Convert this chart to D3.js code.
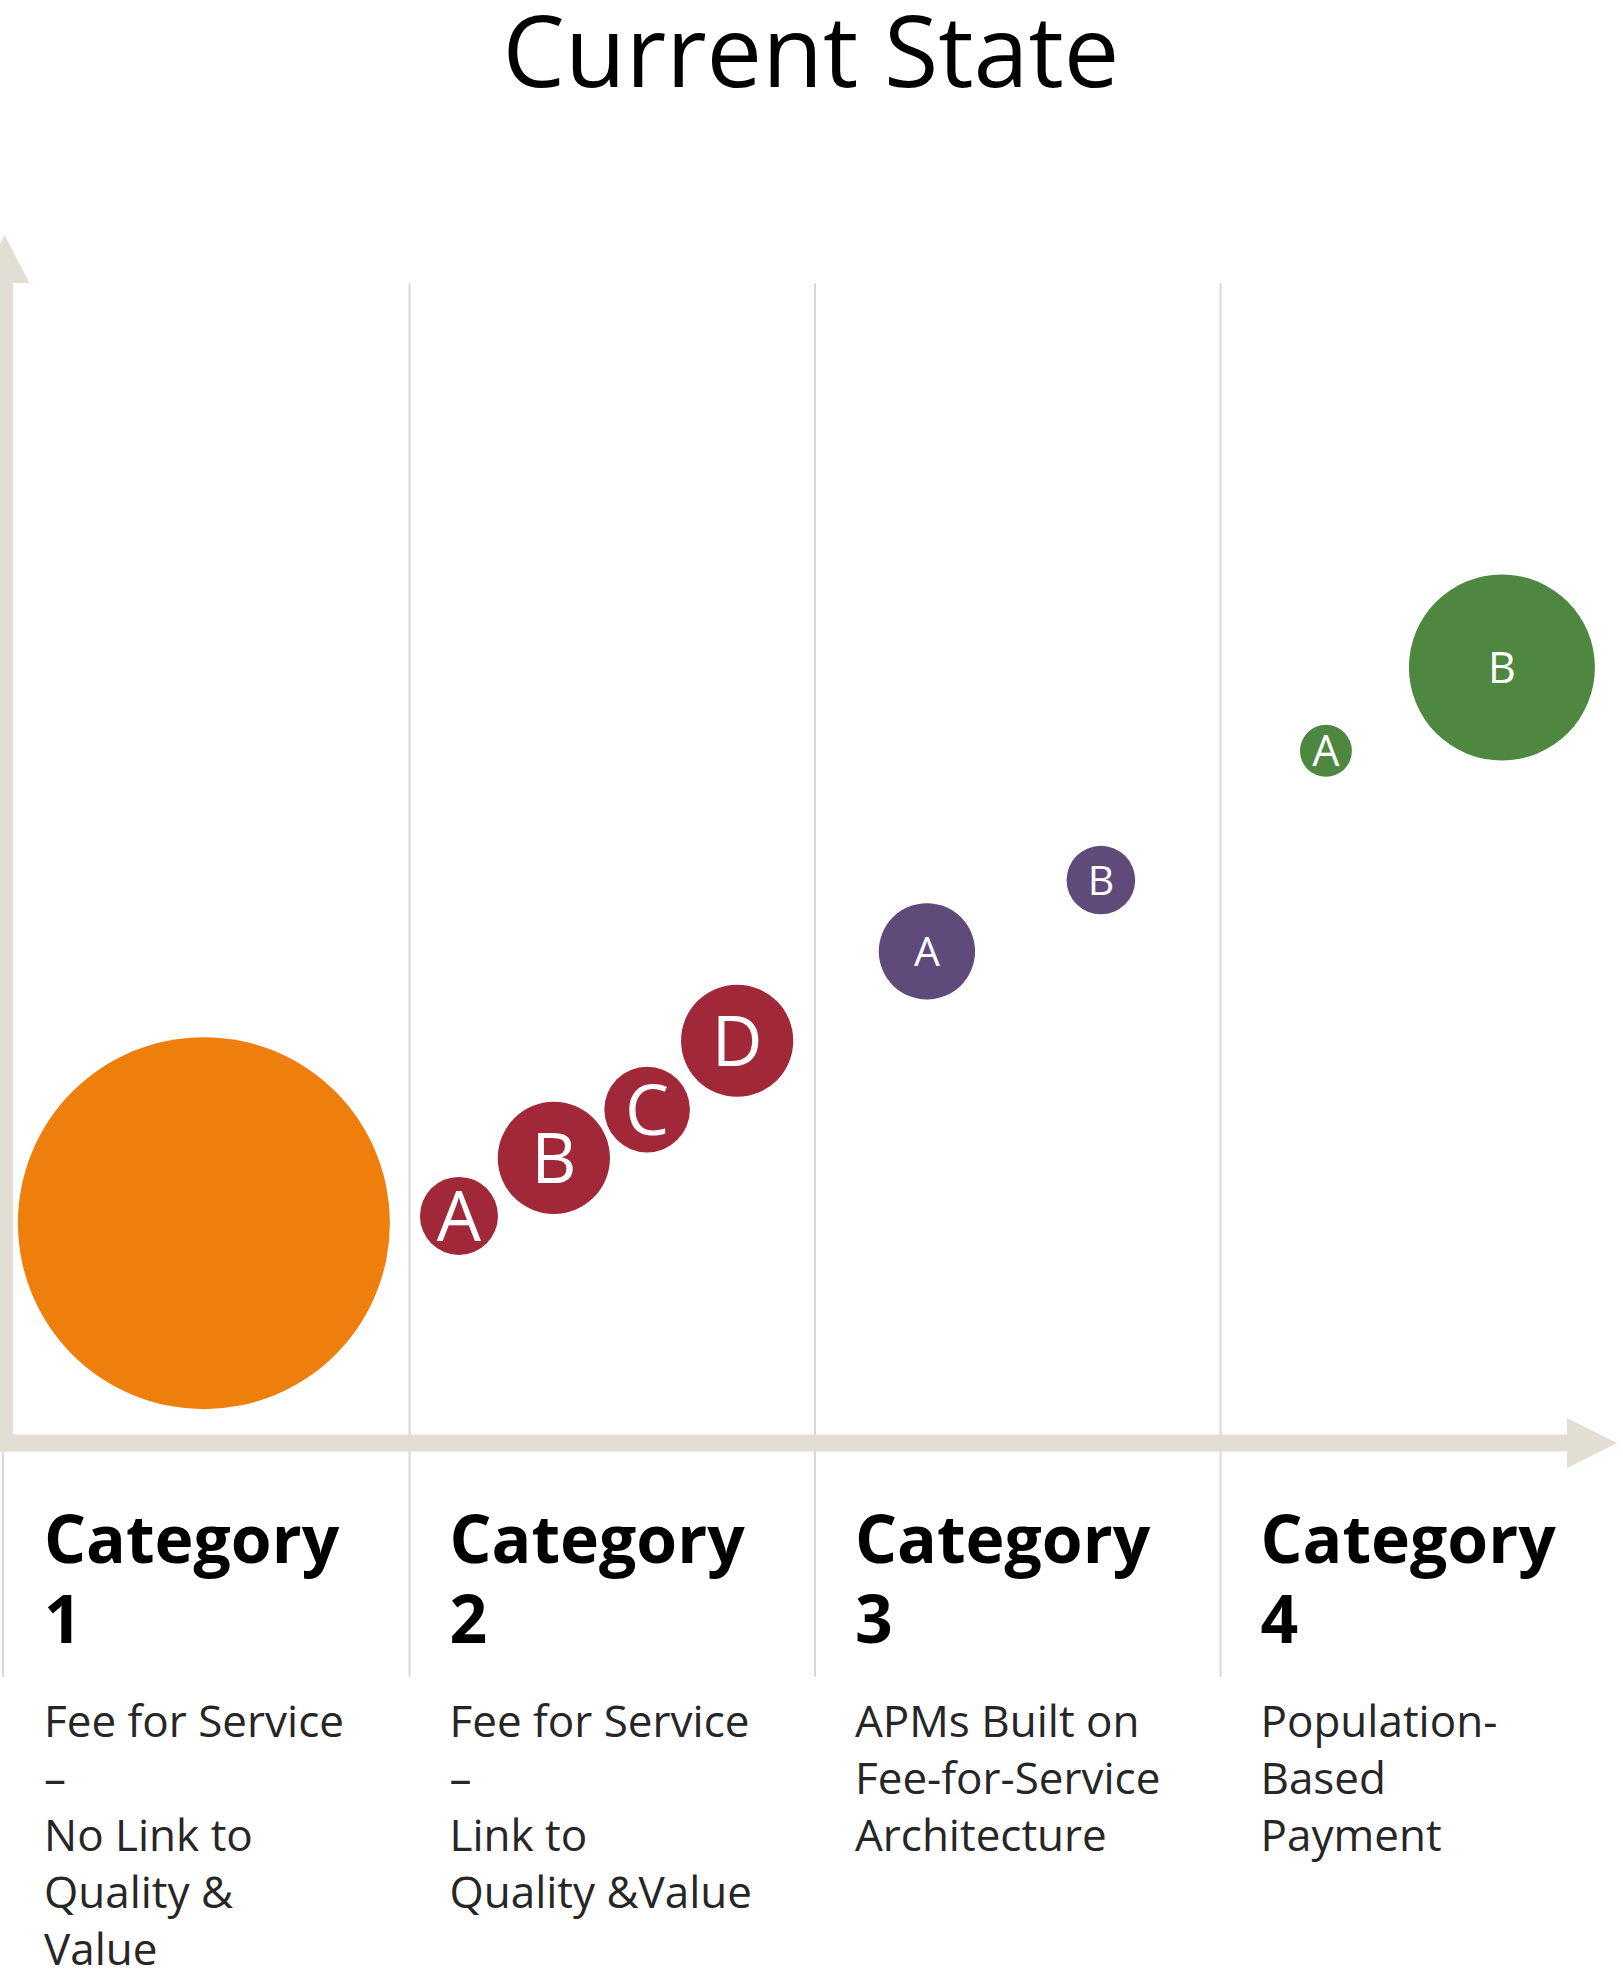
<!DOCTYPE html>
<html>
<head>
<meta charset="utf-8">
<script src="https://cdn.jsdelivr.net/npm/d3@7"></script>
<style>
  body { margin: 0; background: #fff; }
  text { font-family: "Open Sans", "Noto Sans", sans-serif; }
</style>
</head>
<body>
<div id="chart-container"></div>
<script>
// Chart data
const categoryNumbers = ["1", "2", "3", "4"];
const categoryDescriptions = [
    ["Fee for Service", "–", "No Link to", "Quality &", "Value"],
    ["Fee for Service", "–", "Link to", "Quality &Value"],
    ["APMs Built on", "Fee-for-Service", "Architecture"],
    ["Population-", "Based", "Payment"]
];

// Bubbles: label, category, position along the payment continuum, height, size
const bubbleLabels   = ["", "A", "B", "C", "D", "A", "B", "A", "B"];
const bubbleCategory = [1, 2, 2, 2, 2, 3, 3, 4, 4];
const bubbleX        = [0.493, 1.122, 1.356, 1.586, 1.808, 2.276, 2.705, 3.26, 3.694];
const bubbleY        = [18.2, 18.8, 23.6, 27.6, 33.3, 40.7, 46.6, 57.3, 64.2];
const bubbleSize     = [100, 4.4, 9.1, 5.3, 9.1, 6.7, 3.4, 1.95, 25];

// Dimensions
const W = 1623, H = 1974;
const axisColor = "#e3ded4";
const gridColor = "#d9d9d9";

const svg = d3.select("#chart-container")
    .append("svg")
    .attr("width", W)
    .attr("height", H);

// Scales
const xScale = d3.scaleLinear().domain([0, 4]).range([4, 1626]);
const yScale = d3.scaleLinear().domain([0, 100]).range([1443, 235]);
const rScale = d3.scaleSqrt().domain([0, 100]).range([0, 186]);
const colorScale = d3.scaleOrdinal()
    .domain([1, 2, 3, 4])
    .range(["#ef7f0c", "#a12838", "#5f4a7a", "#4e8740"]);
const labelSize = d3.scaleOrdinal()
    .domain([1, 2, 3, 4])
    .range([0, 70, 41, 43]);

const x0 = xScale(0) + 0.5;
const y0 = yScale(0);
const gridTop = 283, gridBottom = 1677;

// Title
svg.append("text")
    .attr("x", 811)
    .attr("y", 87)
    .attr("text-anchor", "middle")
    .attr("font-size", 99)
    .attr("fill", "#000")
    .text("Current State");

// Column separators
svg.selectAll(".grid")
    .data([1, 2, 3])
    .enter()
    .append("line")
    .attr("class", "grid")
    .attr("x1", d => xScale(d))
    .attr("x2", d => xScale(d))
    .attr("y1", gridTop)
    .attr("y2", gridBottom)
    .attr("stroke", gridColor)
    .attr("stroke-width", 2);

svg.append("line")
    .attr("x1", 3).attr("x2", 3)
    .attr("y1", y0).attr("y2", gridBottom)
    .attr("stroke", gridColor)
    .attr("stroke-width", 2);

// Y axis with arrow
svg.append("line")
    .attr("x1", x0).attr("x2", x0)
    .attr("y1", gridTop - 1).attr("y2", y0 + 8.5)
    .attr("stroke", axisColor)
    .attr("stroke-width", 17);

svg.append("path")
    .attr("d", `M${x0},${yScale(100)}L${x0 + 25},${gridTop}L${x0 - 25},${gridTop}Z`)
    .attr("fill", axisColor);

// X axis with arrow
const arrowBase = 1567;
svg.append("line")
    .attr("x1", x0 - 8.5).attr("x2", arrowBase + 1)
    .attr("y1", y0).attr("y2", y0)
    .attr("stroke", axisColor)
    .attr("stroke-width", 17);

svg.append("path")
    .attr("d", `M${arrowBase},${y0 - 25}L${arrowBase + 50},${y0}L${arrowBase},${y0 + 25}Z`)
    .attr("fill", axisColor);

// Bubbles
const bubbles = bubbleLabels.map((label, i) => ({
    label,
    category: bubbleCategory[i],
    x: bubbleX[i],
    y: bubbleY[i],
    size: bubbleSize[i]
}));

const nodes = svg.selectAll(".bubble")
    .data(bubbles)
    .enter()
    .append("g")
    .attr("class", "bubble")
    .attr("transform", d => `translate(${xScale(d.x)},${yScale(d.y)})`);

nodes.append("circle")
    .attr("r", d => rScale(d.size))
    .attr("fill", d => colorScale(d.category));

nodes.filter(d => d.label)
    .append("text")
    .attr("text-anchor", "middle")
    .attr("dy", "0.36em")
    .attr("font-size", d => labelSize(d.category))
    .attr("fill", "#fff")
    .text(d => d.label);

// Category headings and descriptions
const columns = svg.selectAll(".column")
    .data(categoryNumbers)
    .enter()
    .append("g")
    .attr("class", "column")
    .attr("transform", (d, i) => `translate(${xScale(i) + 40},0)`);

columns.append("text")
    .attr("font-size", 66)
    .attr("font-weight", "bold")
    .attr("fill", "#000")
    .selectAll("tspan")
    .data(d => ["Category", d])
    .enter()
    .append("tspan")
    .attr("x", 0)
    .attr("y", (d, i) => 1563 + i * 80)
    .text(d => d);

columns.append("text")
    .attr("font-size", 44)
    .attr("fill", "#262626")
    .selectAll("tspan")
    .data((d, i) => categoryDescriptions[i])
    .enter()
    .append("tspan")
    .attr("x", 0)
    .attr("y", (d, i) => 1737 + i * 57)
    .text(d => d);
</script>
</body>
</html>
